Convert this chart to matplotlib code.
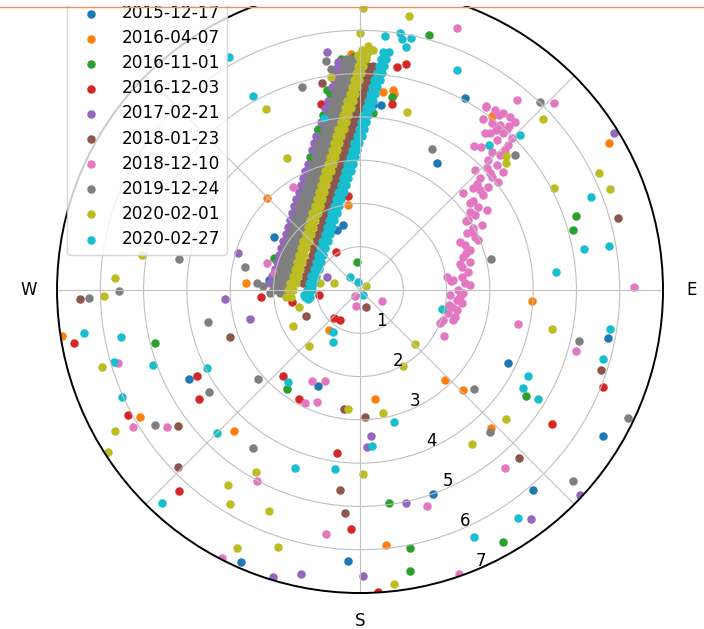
import numpy as np
import matplotlib.pyplot as plt
from matplotlib.patches import Rectangle
from matplotlib.lines import Line2D

plt.rcParams['font.size'] = 12

dates = ['2015-12-17', '2016-04-07', '2016-11-01', '2016-12-03', '2017-02-21',
         '2018-01-23', '2018-12-10', '2019-12-24', '2020-02-01', '2020-02-27']

# positions are east / north offsets, same unit as the radial axis

# --- single detections per date ---
e_151217 = [-1.99, -2.10, -0.97, -3.96, -2.75, -0.28, 1.69, 4.00, 3.42, 5.62, 5.74, 1.78, 2.43, 0.49, 0.30, -0.53, -0.39, -0.35]
n_151217 = [1.23, 0.23, -2.22, -2.06, -6.29, -6.27, -4.72, -4.63, -1.69, -3.38, -1.11, 2.94, 4.44, 4.28, 4.28, 1.39, 1.50, 5.04]

e_160407 = [-2.15, -2.64, -6.89, -5.09, -2.91, -0.72, 0.35, 1.97, 2.38, 3.03, 0.60, 3.98, 5.76, 3.05, 0.53, 0.76, 0.79, -0.21, -0.28]
n_160407 = [2.13, 0.16, -1.06, -2.94, -3.26, -0.93, -2.52, -2.08, -2.31, -3.19, -5.90, -0.25, 3.40, 4.02, 4.58, 4.63, 4.53, 5.46, 1.97]

e_161101 = [-1.34, -1.99, -4.74, -1.69, 3.84, 0.67, 3.31, 1.16, 1.16, 1.60, 0.74, 0.30, 5.00, 4.93, -0.07, -0.16, -0.76, -0.97, -1.11]
n_161101 = [2.43, 0.74, -1.23, -2.29, -2.45, -4.93, -5.81, -5.97, -6.50, 5.90, 4.46, 4.09, 1.71, 1.39, 0.65, 5.39, 4.63, 3.70, 3.08]

e_161203 = [-0.90, -2.29, -0.95, -0.60, -0.46, -1.57, -6.61, -3.77, -3.72, -1.78, -1.41, -5.37, -0.53, -4.19, -0.21, 4.44, 5.62, 0.86, 1.06, 0.74, -0.56, -0.28, 0.42]
n_161203 = [4.30, -0.16, -0.12, -0.65, -0.69, -0.28, -1.23, -1.99, -2.52, -1.99, -2.52, -2.89, -3.77, -4.65, -5.53, -3.10, -2.24, 5.16, 5.23, 4.30, 0.88, 2.17, -6.98]

e_170221 = [-2.82, -3.12, -2.54, -0.76, 0.25, 0.16, 1.06, 3.96, 5.09, 5.87, -2.01, -1.36, 0.07, -0.76, -0.51]
n_170221 = [0.86, -0.21, -0.67, 0.30, -3.38, -3.63, -4.93, -5.30, -4.74, 3.63, -6.64, -6.55, -6.61, 5.50, 5.27]

e_180123 = [-0.88, -6.48, -1.25, -3.01, -4.21, -4.21, -0.46, -0.35, 0.12, 0.14, 3.68, 5.57, 5.97, -0.37]
n_180123 = [4.79, -0.21, -0.60, -1.09, -3.15, -4.09, -4.63, -5.16, -2.94, -0.39, -3.89, -1.85, 1.67, -2.75]

e_181210 = [-1.55, -2.15, -1.99, -5.60, -1.11, -0.81, -1.27, -0.99, -5.25, -4.46, -2.38, -0.79, -3.19, -0.12, -0.09, 0.51,
            1.94, 3.65, 5.00, 3.35, 1.55, 2.29, 2.24, 3.63, 4.49, 2.91, 2.64, 6.34]
n_181210 = [2.38, 0.62, 0.39, -1.69, -2.10, -2.10, -2.61, -2.59, -3.17, -3.17, -4.42, -5.64, -6.20, -0.14, -0.37, -0.25,
            -1.06, -0.79, -1.41, -4.12, -5.00, -6.55, 6.06, 4.39, 4.33, 4.23, 3.33, 0.07]

e_191224 = [-1.34, -4.19, -2.66, -2.38, -2.24, -2.08, -1.85, -5.57, -6.27, -3.52, -3.49, -2.36, -4.74, -2.47, 2.64, 3.01,
            5.07, 6.20, 4.93, 4.16, 1.67, 3.59, 3.03, -0.79, -0.67]
n_191224 = [4.70, 0.72, 0.53, 0.16, 0.09, -0.07, -0.07, -0.02, -0.19, -0.74, -2.36, -2.06, -3.12, -3.65, -2.29, -3.28,
            -1.18, -2.96, -4.42, 4.35, 3.26, 3.12, 0.72, 5.30, 5.11]

e_200201 = [-2.17, -1.69, -5.04, -5.67, -5.92, -1.64, -1.41, -1.55, -1.18, -5.97, -5.67, -5.83, -2.41, -3.05, -3.01, -2.10,
            -2.84, -1.90, -0.28, 0.53, 0.07, 0.79, 1.27, 0.99, 3.38, 2.59, 4.44, 0.07, 1.13, 0.00, 1.09, 4.23, 3.38, 3.38,
            5.53, 5.78, 4.49, 0.14, -0.60, -0.93, -0.67, 0.05, 0.18, 0.30, 0.14, -0.05]
n_200201 = [4.19, 3.05, 0.81, 0.28, -0.14, -0.14, -0.39, -0.83, -1.30, -1.78, -3.26, -3.75, -4.21, -4.51, -4.95, -5.11,
            -5.97, -5.94, -2.75, -2.84, -4.26, -6.80, -1.25, -1.76, -2.98, -3.56, -0.90, 6.52, 6.34, 5.94, 4.12, 3.96, 3.10, 2.94,
            2.71, 2.34, 2.36, 0.09, 0.16, 0.16, 4.93, 5.55, 5.64, 5.55, 5.39, 5.43]

e_200227 = [-3.03, -2.47, -0.83, -6.38, -5.53, -5.69, -4.79, -3.54, -5.50, -3.31, -4.58, -1.67, -1.50, -0.58, -0.62, -0.62,
            0.07, -0.23, -0.05, 0.79, 0.28, 1.90, 3.89, 3.77, 4.12, 5.78, 5.62, 3.65, 2.64, 4.53, 5.18, 5.76, 5.34, 3.70,
            2.98, 2.24, 0.58, 0.93, 0.97, 1.18, 1.06, -1.30, -1.20]
n_200227 = [5.39, 4.49, 3.98, -0.99, -1.09, -1.67, -1.73, -1.80, -2.47, -3.31, -4.93, -2.13, -4.12, -4.14, -0.97, -1.20,
            -0.12, 0.30, 0.19, -3.05, -3.61, -0.44, -1.99, -2.27, -2.52, -0.90, -1.60, -5.27, -5.71, 0.42, 0.95, 1.02, 2.15, 3.59,
            3.35, 5.09, 5.87, 5.94, 5.81, 5.83, 5.62, -0.12, -0.20]

# --- dense tracks (rows read every ~0.16 in north) ---
rows_n = [0.00, 0.16, 0.32, 0.49, 0.65, 0.81, 0.97, 1.13, 1.30, 1.46, 1.62, 1.78, 1.94, 2.10, 2.27, 2.43, 2.59, 2.75,
          2.91, 3.08, 3.24, 3.40, 3.56, 3.72, 3.89, 4.05, 4.21, 4.37, 4.53, 4.69, 4.86, 5.02, 5.18, 5.34, 5.50]

blue_trk_n = [0.32, 1.13, 1.94, 2.75, 3.56, 4.37, 5.02]
blue_trk_e = [-1.79, -1.53, -1.28, -1.02, -0.77, -0.51, -0.31]

orange_trk_n = [0.49, 1.30, 2.10, 2.91, 3.72, 4.53, 5.18]
orange_trk_e = [-1.63, -1.38, -1.13, -0.87, -0.62, -0.36, -0.16]

green_trk_n = [3.08, 3.72, 4.05, 4.53, 5.34]
green_trk_e = [-1.16, -0.96, -0.85, -0.70, -0.45]

red_trk_n = [0.16, 0.65, 1.13, 1.46, 1.94, 2.43, 2.91, 3.40, 3.89, 4.37, 4.86]
red_trk_e = [-1.64, -1.48, -1.33, -1.23, -1.08, -0.92, -0.77, -0.62, -0.46, -0.31, -0.16]

purple_trk_n = [0.16, 0.32, 0.49, 0.65, 0.81, 0.97, 1.13, 1.30, 1.46, 1.62, 1.78, 1.94, 2.10, 2.27, 2.43, 2.59, 2.75,
                2.91, 3.24, 3.40, 3.56, 3.89, 4.21, 4.37, 4.69, 4.86, 5.02, 5.18]
purple_trk_e = [-2.08, -2.03, -1.97, -1.92, -1.87, -1.82, -1.77, -1.72, -1.67, -1.62, -1.57, -1.52, -1.47, -1.41, -1.36,
                -1.31, -1.26, -1.21, -1.11, -1.06, -1.01, -0.90, -0.80, -0.75, -0.65, -0.60, -0.55, -0.50]

brown_trk_left = [-1.32, -1.27, -1.22, -1.17, -1.12, -1.08, -1.03, -0.98, -0.93, -0.88, -0.83, -0.79, -0.74, -0.69, -0.64,
                  -0.59, -0.54, -0.50, -0.44, -0.40, -0.35, -0.30, -0.25, -0.20, -0.15, -0.11, -0.06, -0.01, 0.04, 0.09,
                  0.14, 0.19]
brown_trk_right = [-1.22, -1.17, -1.12, -1.07, -1.02, -0.98, -0.93, -0.88, -0.83, -0.78, -0.73, -0.69, -0.64, -0.59, -0.54,
                   -0.49, -0.44, -0.40, -0.34, -0.30, -0.25, -0.20, -0.15, -0.10, -0.05, -0.01, 0.04, 0.09, 0.14, 0.19,
                   0.24, 0.29]

pink_trk_e = [2.91, 3.31, 3.47, 3.59, 3.05, 3.24, 3.01, 3.31, 3.52, 2.89, 3.17, 3.42, 3.05, 3.24, 2.96, 3.17, 2.66, 2.94,
              3.31, 3.05, 2.78, 3.19, 2.96, 2.61, 2.38, 2.84, 2.54, 2.73, 2.94, 2.66, 2.82, 2.61, 2.47, 2.66, 2.43, 2.54,
              2.38, 2.54, 2.36, 2.50, 2.36, 2.01, 2.15, 2.43, 2.27, 2.38, 2.24, 2.36, 2.13, 2.24, 2.04, 2.20, 1.92, 2.15,
              1.85, 2.78, 2.50, 2.73, 2.54, 2.08, 3.35, 3.12,
              3.15, 3.40, 2.80, 3.00, 2.70, 2.60, 2.55, 2.45, 2.60, 2.30, 2.45, 2.30, 2.10, 2.30, 2.05, 3.20, 2.85, 3.45]
pink_trk_n = [4.26, 4.09, 4.00, 3.89, 3.86, 3.82, 3.63, 3.63, 3.52, 3.63, 3.47, 3.35, 3.19, 3.12, 3.01, 2.89, 2.78, 2.82,
              2.73, 2.61, 2.59, 2.50, 2.38, 2.36, 2.24, 2.20, 2.01, 1.92, 1.85, 1.73, 1.50, 1.43, 1.32, 1.23, 1.04, 0.93,
              0.76, 0.65, 0.53, 0.42, 0.30, 0.30, 0.23, 0.16, 0.00, -0.07, -0.23, -0.30, -0.39, -0.46, -0.53, -0.62, -0.69, -0.69,
              -0.76, 2.31, 1.62, 1.16, 0.12, -0.12, 3.24, 4.16,
              3.70, 3.72, 3.30, 2.70, 2.45, 2.05, 1.80, 1.60, 1.35, 1.10, 0.85, 0.60, 0.20, -0.15, -0.35, 4.05, 3.95, 3.80]

gray_trk_left = [-2.01, -1.96, -1.91, -1.85, -1.80, -1.75, -1.70, -1.65, -1.60, -1.55, -1.50, -1.45, -1.40, -1.35, -1.29,
                 -1.24, -1.19, -1.14, -1.09, -1.04, -0.99, -0.94, -0.89, -0.84, -0.78, -0.73, -0.68, -0.63, -0.58, -0.53,
                 -0.48, -0.43, -0.38, -0.33]
gray_trk_mid = [-1.89, -1.84, -1.79, -1.73, -1.68, -1.63, -1.58, -1.53, -1.48, -1.43, -1.38, -1.33, -1.28, -1.23, -1.17,
                -1.12, -1.07, -1.02, -0.97, -0.92, -0.87, -0.82, -0.77, -0.72, -0.66, -0.61, -0.56, -0.51, -0.46, -0.41,
                -0.36, -0.31, -0.26, -0.21]
gray_trk_right = [-1.77, -1.72, -1.67, -1.61, -1.56, -1.51, -1.46, -1.41, -1.36, -1.31, -1.26, -1.21, -1.16, -1.11, -1.05,
                  -1.00, -0.95, -0.90, -0.85, -0.80, -0.75, -0.70, -0.65, -0.60, -0.54, -0.49, -0.44, -0.39, -0.34, -0.29,
                  -0.24, -0.19, -0.14, -0.09]

olive_trk_left = [-1.71, -1.66, -1.61, -1.56, -1.51, -1.46, -1.41, -1.36, -1.31, -1.25, -1.20, -1.15, -1.10, -1.05, -1.00,
                  -0.95, -0.90, -0.85, -0.80, -0.75, -0.70, -0.65, -0.60, -0.55, -0.50, -0.44, -0.39, -0.34, -0.29, -0.24,
                  -0.19, -0.14, -0.09, -0.04, 0.01, 0.06]
olive_trk_right = [-1.59, -1.54, -1.49, -1.44, -1.39, -1.34, -1.29, -1.24, -1.19, -1.13, -1.08, -1.03, -0.98, -0.93, -0.88,
                   -0.83, -0.78, -0.73, -0.68, -0.63, -0.58, -0.53, -0.48, -0.43, -0.38, -0.32, -0.27, -0.22, -0.17, -0.12,
                   -0.07, -0.02, 0.03, 0.08, 0.13, 0.18]

cyan_trk_left = [-1.28, -1.23, -1.18, -1.13, -1.07, -1.02, -0.97, -0.92, -0.87, -0.81, -0.76, -0.71, -0.66, -0.61, -0.55,
                 -0.50, -0.45, -0.40, -0.34, -0.29, -0.24, -0.19, -0.14, -0.08, -0.03, 0.02, 0.07, 0.13, 0.18, 0.23,
                 0.28, 0.33, 0.39, 0.44, 0.49, 0.54]
cyan_trk_right = [-1.16, -1.11, -1.06, -1.01, -0.95, -0.90, -0.85, -0.80, -0.75, -0.69, -0.64, -0.59, -0.54, -0.49, -0.43,
                  -0.38, -0.33, -0.28, -0.22, -0.17, -0.12, -0.07, -0.02, 0.04, 0.09, 0.14, 0.19, 0.25, 0.30, 0.35,
                  0.40, 0.45, 0.51, 0.56, 0.61, 0.66]


def pts(*pairs):
    e, n = [], []
    for pe, pn in pairs:
        k = min(len(pe), len(pn))
        e += list(pe[:k])
        n += list(pn[:k])
    return np.array(e), np.array(n)


gray_n = rows_n[:34]
olive_n = [-0.16] + rows_n
brown_n = rows_n[1:33]
cyan_n = [-0.16] + rows_n

tracks = [
    pts((e_151217, n_151217), (blue_trk_e, blue_trk_n)),
    pts((e_160407, n_160407), (orange_trk_e, orange_trk_n)),
    pts((e_161101, n_161101), (green_trk_e, green_trk_n)),
    pts((e_161203, n_161203), (red_trk_e, red_trk_n)),
    pts((e_170221, n_170221), (purple_trk_e, purple_trk_n)),
    pts((e_180123, n_180123), (brown_trk_left, brown_n), (brown_trk_right, brown_n)),
    pts((e_181210, n_181210), (pink_trk_e, pink_trk_n)),
    pts((e_191224, n_191224), (gray_trk_left, gray_n), (gray_trk_mid, gray_n), (gray_trk_right, gray_n)),
    pts((e_200201, n_200201), (olive_trk_left, olive_n), (olive_trk_right, olive_n)),
    pts((e_200227, n_200227), (cyan_trk_left, cyan_n), (cyan_trk_right, cyan_n)),
]

fig = plt.figure(figsize=(7.04, 6.29), dpi=100)
ax = fig.add_axes([0.081, 0.0572, 0.8608, 0.9634], projection='polar')
ax.set_theta_zero_location('N')
ax.set_theta_direction(-1)

for date, (e, n) in zip(dates, tracks):
    ax.scatter(np.arctan2(e, n), np.hypot(e, n), s=26, label=date)

ax.set_ylim(0, 7)
ax.set_yticks(range(1, 8))
ax.set_rlabel_position(157.5)
# north label falls outside the cropped picture
ax.set_thetagrids(range(0, 360, 45), ['', '', 'E', '', 'S', '', 'W', ''])
ax.tick_params(axis='x', pad=10)
ax.grid(color='#c0c0c0')
ax.spines['polar'].set_linewidth(1.4)
ax.legend(loc='upper left', prop={'size': 12.2}, labelspacing=0.42, borderaxespad=0.6)

# screenshot crop edge at the top
fig.add_artist(Rectangle((0, 1 - 6 / 629), 1, 6 / 629, transform=fig.transFigure,
                         facecolor='white', edgecolor='none', zorder=10))
fig.add_artist(Line2D([0, 1], [1 - 6.5 / 629] * 2, transform=fig.transFigure,
                      color='#f0915a', lw=1, zorder=11))

fig.savefig('out.png', dpi=100)
